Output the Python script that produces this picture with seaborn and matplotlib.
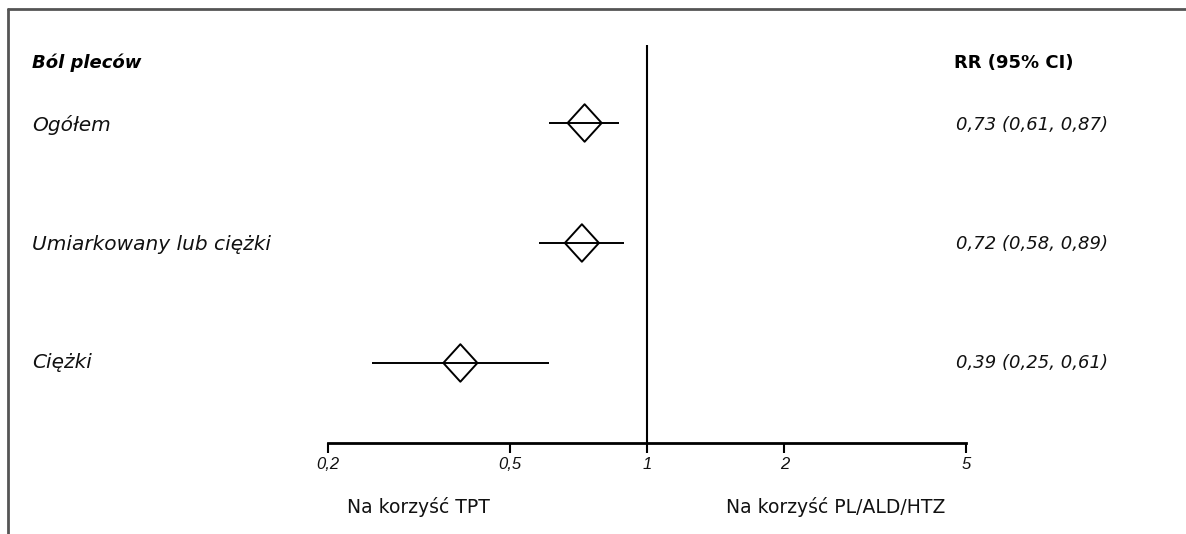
import matplotlib
matplotlib.use("Agg")
import matplotlib.pyplot as plt
import matplotlib.ticker as mticker
from matplotlib.path import Path
import pandas as pd
import seaborn as sns

# forest plot data
outcomes = ["Ogółem", "Umiarkowany lub ciężki", "Ciężki"]
rr = [0.73, 0.72, 0.39]
ci_low = [0.61, 0.58, 0.25]
ci_high = [0.87, 0.89, 0.61]
tick_vals = [0.2, 0.5, 1, 2, 5]
tick_labels = ["0,2", "0,5", "1", "2", "5"]


def fmt(v):
    return ("%.2f" % v).replace(".", ",")


df = pd.DataFrame({"outcome": outcomes, "rr": rr, "lo": ci_low, "hi": ci_high})
df["row"] = range(len(df))

sns.set_theme(style="white")
plt.rcParams["font.family"] = ["DejaVu Sans"]

W, H = 1186, 534
fig = plt.figure(figsize=(W / 100, H / 100), dpi=100)

# plot area: x axis 0.2..5 from px 328 to 966, y from px 45 to 443
ax = fig.add_axes([328 / W, 1 - 443 / H, (966 - 328) / W, (443 - 45) / H])
ax.set_xscale("log")
ax.set_xlim(tick_vals[0], tick_vals[-1])
ax.set_ylim(2.667, -0.65)

# slightly tall open diamond
diamond = Path([(0, 1.1), (1, 0), (0, -1.1), (-1, 0), (0, 1.1)],
               [Path.MOVETO, Path.LINETO, Path.LINETO, Path.LINETO, Path.CLOSEPOLY])

ax.hlines(df["row"], df["lo"], df["hi"], color="black", lw=1.4, zorder=2)
sns.scatterplot(data=df, x="rr", y="row", marker=diamond, s=730,
                facecolor="none", edgecolor="black", linewidth=1.4,
                ax=ax, zorder=3, legend=False)
ax.axvline(1, color="black", lw=1.5, zorder=1)

for s in ["top", "right", "left"]:
    ax.spines[s].set_visible(False)
ax.spines["bottom"].set_linewidth(2)
ax.spines["bottom"].set_color("black")
ax.xaxis.set_major_locator(mticker.FixedLocator(tick_vals))
ax.xaxis.set_minor_locator(mticker.NullLocator())
ax.xaxis.set_major_formatter(mticker.FixedFormatter(tick_labels))
ax.tick_params(axis="x", direction="out", length=7, width=1.5, color="black",
               bottom=True, pad=3, labelcolor="#111111", labelsize=12)
for lab in ax.get_xticklabels():
    lab.set_fontstyle("italic")
    lab.set_family(["Liberation Sans", "DejaVu Sans"])
    lab.set_fontsize(12)
ax.set_yticks([])
ax.set_xlabel("")
ax.set_ylabel("")

# left labels and right values
for _, r in df.iterrows():
    y_fig = 1 - (125 + r["row"] * 119) / H
    fig.text(32 / W, y_fig, r["outcome"], fontsize=14.5, fontstyle="italic",
             va="center", ha="left", color="#111111")
    fig.text(956 / W, y_fig, "%s (%s, %s)" % (fmt(r["rr"]), fmt(r["lo"]), fmt(r["hi"])),
             fontsize=13, fontstyle="italic", va="center", ha="left", color="#111111")

fig.text(32 / W, 1 - 63 / H, "Ból pleców", fontsize=13, fontstyle="italic",
         fontweight="bold", va="center", ha="left", color="black")
fig.text(954 / W, 1 - 63 / H, "RR (95% CI)", fontsize=13, fontweight="bold",
         va="center", ha="left", color="black")

fig.text(418 / W, 1 - 507 / H, "Na korzyść TPT", fontsize=13.5,
         va="center", ha="center", color="#111111")
fig.text(836 / W, 1 - 507 / H, "Na korzyść PL/ALD/HTZ", fontsize=13.5,
         va="center", ha="center", color="#111111")

# outer frame (top and left)
fig.add_artist(plt.Line2D([8 / W, 1], [1 - 9 / H, 1 - 9 / H], color="#555555", lw=2))
fig.add_artist(plt.Line2D([8 / W, 8 / W], [0, 1 - 9 / H], color="#555555", lw=2))

fig.savefig("out.png", dpi=100)
